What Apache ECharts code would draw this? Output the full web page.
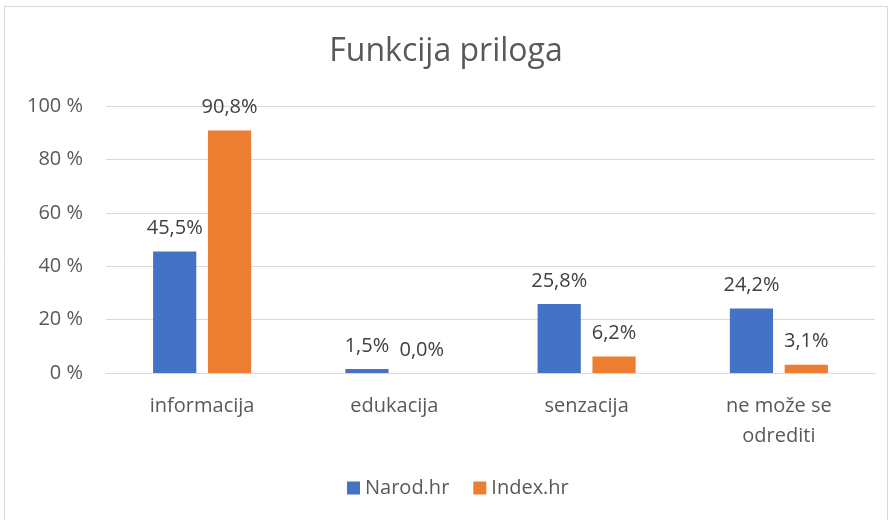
<!DOCTYPE html>
<html><head><meta charset="utf-8">
<script src="https://cdn.jsdelivr.net/npm/echarts@6/dist/echarts.min.js"></script>
<style>html,body{margin:0;padding:0;background:#fff}#c{width:892px;height:520px}</style>
</head><body><div id="c"></div>
<script>
var categories = ['informacija', 'edukacija', 'senzacija', 'ne može se\nodrediti'];
var narod = [45.5, 1.5, 25.8, 24.2];
var index = [90.8, 0.0, 6.2, 3.1];
var yTicks = [0, 20, 40, 60, 80, 100];
var seriesNames = ['Narod.hr', 'Index.hr'];

var FONT = '"Open Sans", "Noto Sans", sans-serif';
var chart = echarts.init(document.getElementById('c'));
var lbl = {
  show: true, position: 'top', distance: 13, color: '#404040', fontSize: 20, fontFamily: FONT,
  formatter: function (p) { return p.value.toFixed(1).replace('.', ',') + '%'; }
};
chart.setOption({
  animation: false,
  graphic: [{ type: 'rect', shape: { x: 4.5, y: 6.5, width: 883, height: 520 }, style: { fill: 'none', stroke: '#d9d9d9', lineWidth: 1 } }],
  title: { text: 'Funkcija priloga', left: 'center', top: 31,
    textStyle: { fontFamily: FONT, fontSize: 32, fontWeight: 'normal', color: '#595959' } },
  legend: { top: 473, left: 342, itemWidth: 13, itemHeight: 13, itemGap: 24, icon: 'rect',
    textStyle: { fontFamily: FONT, fontSize: 20, color: '#595959' }, data: seriesNames },
  grid: { left: 106, right: 17, top: 106, bottom: 147, containLabel: false },
  xAxis: { type: 'category', data: categories,
    axisLine: { lineStyle: { color: '#d9d9d9', width: 1 } }, axisTick: { show: false },
    axisLabel: { fontFamily: FONT, fontSize: 20, color: '#595959', margin: 18, lineHeight: 30 } },
  yAxis: { type: 'value', min: 0, max: 100, interval: 20,
    axisLine: { show: false }, axisTick: { show: false },
    splitLine: { lineStyle: { color: '#d9d9d9', width: 1 } },
    axisLabel: { fontFamily: FONT, fontSize: 20, color: '#595959', margin: 23,
      formatter: function (v) { return yTicks.indexOf(v) >= 0 ? v + ' %' : ''; } } },
  series: [
    { name: seriesNames[0], type: 'bar', data: narod, barGap: '27%', barCategoryGap: '49%',
      itemStyle: { color: '#4472C4' }, label: lbl },
    { name: seriesNames[1], type: 'bar', data: index,
      itemStyle: { color: '#ED7D31' }, label: lbl }
  ]
});
</script></body></html>
